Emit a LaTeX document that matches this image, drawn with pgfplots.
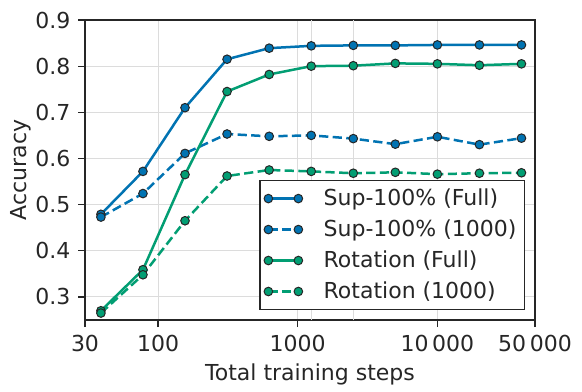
\documentclass[border=0pt]{standalone}
\usepackage{fontspec}
\setmainfont{DejaVu Sans}
\usepackage{pgfplots}
\pgfplotsset{compat=1.18}

\definecolor{cbblue}{HTML}{0173B2}
\definecolor{cbgreen}{HTML}{029E73}
\definecolor{txt}{HTML}{262626}
\definecolor{gridc}{HTML}{DCDCDC}

\pgfplotsset{
  myline/.style={line width=1.25bp, mark=*, mark size=2.15bp,
    mark options={solid, fill=#1, draw=txt, line width=0.5bp}, color=#1},
}

\begin{document}
\fontsize{11bp}{13bp}\selectfont
\begin{tikzpicture}
  \path[use as bounding box] (-42.5bp,-36bp) rectangle (248.5bp,160bp);
  \begin{axis}[
    at={(0,0)}, anchor=south west,
    scale only axis, width=225bp, height=150bp,
    xmode=log, log basis x=10,
    xmin=30, xmax=50000, ymin=0.25, ymax=0.9,
    xtick={30,100,1000,10000,50000},
    xticklabels={30,100,1000,10\,000,50\,000},
    extra x ticks={1250,2500},
    extra x tick labels={},
    extra x tick style={grid=major, major tick length=0pt},
    ytick={0.3,0.4,0.5,0.6,0.7,0.8,0.9},
    yticklabels={0.3,0.4,0.5,0.6,0.7,0.8,0.9},
    /pgf/number format/assume math mode=true,
    tick align=outside, tickpos=left,
    major tick length=3.5bp, minor tick length=2bp,
    every tick/.style={txt, line width=0.6bp},
    grid=major,
    major grid style={gridc, line width=0.5bp},
    axis line style={txt, line width=0.9bp},
    tick label style={txt, font=\fontsize{11bp}{13bp}\selectfont},
    label style={txt, font=\fontsize{11bp}{13bp}\selectfont},
    xlabel={Total training steps},
    ylabel={Accuracy},
    xlabel style={yshift=5bp},
    ylabel style={yshift=-5.5bp},
    legend style={at={(0.978,0.033)}, anchor=south east,
      draw=txt, line width=0.6bp, fill=white,
      font=\fontsize{11bp}{13bp}\selectfont, text=txt,
      inner xsep=2bp, inner ysep=2bp,
      row sep=1.5bp,
      /tikz/every odd column/.append style={column sep=8.5bp}},
    legend cell align=left,
    legend image code/.code={
      \draw[#1] plot coordinates {(0bp,0bp) (15bp,0bp)};
    },
  ]
    \addplot[myline=cbblue] coordinates {
      (39,0.479) (78,0.572) (156,0.710) (312,0.815) (625,0.839) (1250,0.844)
      (2500,0.845) (5000,0.845) (10000,0.846) (20000,0.846) (40000,0.846)
    };
    \addlegendentry{Sup-100\% (Full)}

    \addplot[myline=cbblue, dashed, dash pattern=on 4.6bp off 2.2bp] coordinates {
      (39,0.473) (78,0.524) (156,0.611) (312,0.653) (625,0.648) (1250,0.650)
      (2500,0.643) (5000,0.631) (10000,0.647) (20000,0.630) (40000,0.644)
    };
    \addlegendentry{Sup-100\% (1000)}

    \addplot[myline=cbgreen] coordinates {
      (39,0.270) (78,0.359) (156,0.565) (312,0.745) (625,0.782) (1250,0.800)
      (2500,0.801) (5000,0.806) (10000,0.805) (20000,0.802) (40000,0.805)
    };
    \addlegendentry{Rotation (Full)}

    \addplot[myline=cbgreen, dashed, dash pattern=on 4.6bp off 2.2bp] coordinates {
      (39,0.265) (78,0.348) (156,0.465) (312,0.562) (625,0.575) (1250,0.572)
      (2500,0.568) (5000,0.570) (10000,0.566) (20000,0.568) (40000,0.569)
    };
    \addlegendentry{Rotation (1000)}
  \end{axis}
\end{tikzpicture}
\end{document}
